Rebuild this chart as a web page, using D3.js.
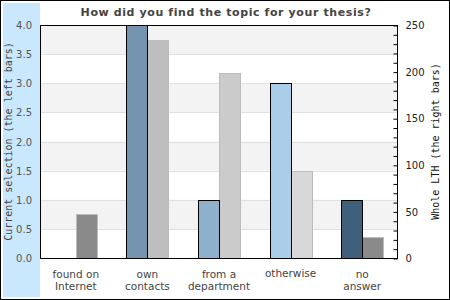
<!DOCTYPE html>
<html lang="en">
<head>
<meta charset="utf-8">
<title>How did you find the topic for your thesis?</title>
<script src="https://d3js.org/d3.v7.min.js"></script>
<style>
  body { margin: 0; background: #fff; }
  svg { display: block; }
</style>
</head>
<body>
<div id="chart"></div>
<script>

/* Data */
var categories = [['found on', 'Internet'], ['own', 'contacts'], ['from a', 'department'], ['otherwise'], ['no', 'answer']];
var currentValues = [0, 4, 1, 3, 1];          // left bars, left axis
var wholeValues = [47, 234, 198, 93, 23];      // right bars, right axis
var leftTicks = [0, 0.5, 1, 1.5, 2, 2.5, 3, 3.5, 4];
var rightTicks = [0, 50, 100, 150, 200, 250];

var leftColors = ['#7393ae', '#7393ae', '#8eb0cc', '#aacde9', '#3f5f7a'];
var rightColors = ['#8a8a8a', '#bebebe', '#cbcbcb', '#d8d8d8', '#8a8a8a'];

/* Setup */
var width = 450, height = 300;
var plot = { left: 40, right: 398, top: 25, bottom: 258 };

var svg = d3.select('#chart').append('svg')
  .attr('width', width)
  .attr('height', height);

var x = d3.scaleBand()
  .domain(d3.range(categories.length))
  .range([plot.left, plot.right]);

var yLeft = d3.scaleLinear().domain([0, 4]).range([plot.bottom, plot.top]);
var yRight = d3.scaleLinear().domain([0, 250]).range([plot.bottom, plot.top]);

// outer frame
svg.append('rect')
  .attr('x', 0.5).attr('y', 0.5)
  .attr('width', width - 1).attr('height', height - 1)
  .attr('fill', '#fff').attr('stroke', '#000');

// left axis panel
svg.append('rect')
  .attr('x', 3).attr('y', 3)
  .attr('width', plot.left - 3).attr('height', 294)
  .attr('fill', '#c9e8fd');

// bands
d3.range(leftTicks.length - 1).forEach(function(i) {
  if (i % 2 === 1) {
    svg.append('rect')
      .attr('x', plot.left).attr('width', plot.right - plot.left)
      .attr('y', yLeft(leftTicks[i + 1]))
      .attr('height', yLeft(leftTicks[i]) - yLeft(leftTicks[i + 1]))
      .attr('fill', '#f3f3f3');
  }
});

// grid lines
svg.append('g').selectAll('line')
  .data(leftTicks.slice(1, -1))
  .join('line')
  .attr('x1', plot.left).attr('x2', plot.right)
  .attr('y1', function(d) { return Math.round(yLeft(d)) + 0.5; })
  .attr('y2', function(d) { return Math.round(yLeft(d)) + 0.5; })
  .attr('stroke', '#e0e0e0');

// bars
var bw = 21;
var bars = svg.append('g');

bars.selectAll('rect.right')
  .data(wholeValues)
  .join('rect')
  .attr('class', 'right')
  .attr('x', function(d, i) { return Math.round(x(i) + x.bandwidth() / 2) + 0.5; })
  .attr('y', function(d) { return Math.round(yRight(d)) + 0.5; })
  .attr('width', bw)
  .attr('height', function(d) { return plot.bottom - Math.round(yRight(d)); })
  .attr('fill', function(d, i) { return rightColors[i]; })
  .attr('stroke', '#bcbcbc');

bars.selectAll('rect.left')
  .data(currentValues)
  .join('rect')
  .attr('class', 'left')
  .attr('x', function(d, i) { return Math.round(x(i) + x.bandwidth() / 2) - bw + 0.5; })
  .attr('y', function(d) { return Math.round(yLeft(d)) + 0.5; })
  .attr('width', bw)
  .attr('height', function(d) { return plot.bottom - Math.round(yLeft(d)); })
  .attr('fill', function(d, i) { return leftColors[i]; })
  .attr('stroke', '#000')
  .style('display', function(d) { return d > 0 ? null : 'none'; });

// plot frame
svg.append('rect')
  .attr('x', plot.left + 0.5).attr('y', plot.top + 0.5)
  .attr('width', plot.right - plot.left - 1)
  .attr('height', plot.bottom - plot.top)
  .attr('fill', 'none').attr('stroke', '#000');

// right axis (ticks inward)
var rightAxis = d3.axisRight(yRight)
  .tickValues(d3.range(0, 251, 10))
  .tickSize(-4)
  .tickFormat(function(d) { return rightTicks.indexOf(d) >= 0 ? d : ''; })
  .tickPadding(8);

var gR = svg.append('g')
  .attr('transform', 'translate(' + (plot.right - 0.5) + ',0.5)')
  .call(rightAxis);
gR.select('.domain').remove();
gR.selectAll('text')
  .attr('font-family', 'DejaVu Sans').attr('font-size', 10).attr('fill', '#222');

// left axis labels
svg.append('g').selectAll('text')
  .data(leftTicks)
  .join('text')
  .attr('x', 32)
  .attr('y', function(d) { return yLeft(d) + 4; })
  .attr('text-anchor', 'end')
  .attr('font-family', 'DejaVu Sans').attr('font-size', 10).attr('fill', '#555')
  .text(function(d) { return d3.format('.1f')(d); });

// axis titles
svg.append('text')
  .attr('transform', 'translate(12,' + ((plot.top + plot.bottom) / 2) + ') rotate(-90)')
  .attr('text-anchor', 'middle')
  .attr('font-family', 'DejaVu Sans Mono').attr('font-size', 10).attr('fill', '#444')
  .text('Current selection (the left bars)');

svg.append('text')
  .attr('transform', 'translate(439,' + ((plot.top + plot.bottom) / 2) + ') rotate(-90)')
  .attr('text-anchor', 'middle')
  .attr('font-family', 'DejaVu Sans Mono').attr('font-size', 10).attr('fill', '#111')
  .text('Whole LTH (the right bars)');

// category labels
var cat = svg.append('g').selectAll('text')
  .data(categories)
  .join('text')
  .attr('text-anchor', 'middle')
  .attr('font-family', 'DejaVu Sans').attr('font-size', 10.5).attr('fill', '#444')
  .attr('y', function(d) { return d.length > 1 ? 278 : 277; });

cat.selectAll('tspan')
  .data(function(d, i) { return d.map(function(s) { return { s: s, i: i }; }); })
  .join('tspan')
  .attr('x', function(d) { return x(d.i) + x.bandwidth() / 2; })
  .attr('dy', function(d, j) { return j === 0 ? 0 : 12; })
  .text(function(d) { return d.s; });

// title
svg.append('text')
  .attr('x', 226).attr('y', 16)
  .attr('text-anchor', 'middle')
  .attr('font-family', 'DejaVu Sans').attr('font-weight', 'bold')
  .attr('font-size', 11).attr('letter-spacing', 0.6).attr('fill', '#444')
  .text('How did you find the topic for your thesis?');

</script>
</body>
</html>
